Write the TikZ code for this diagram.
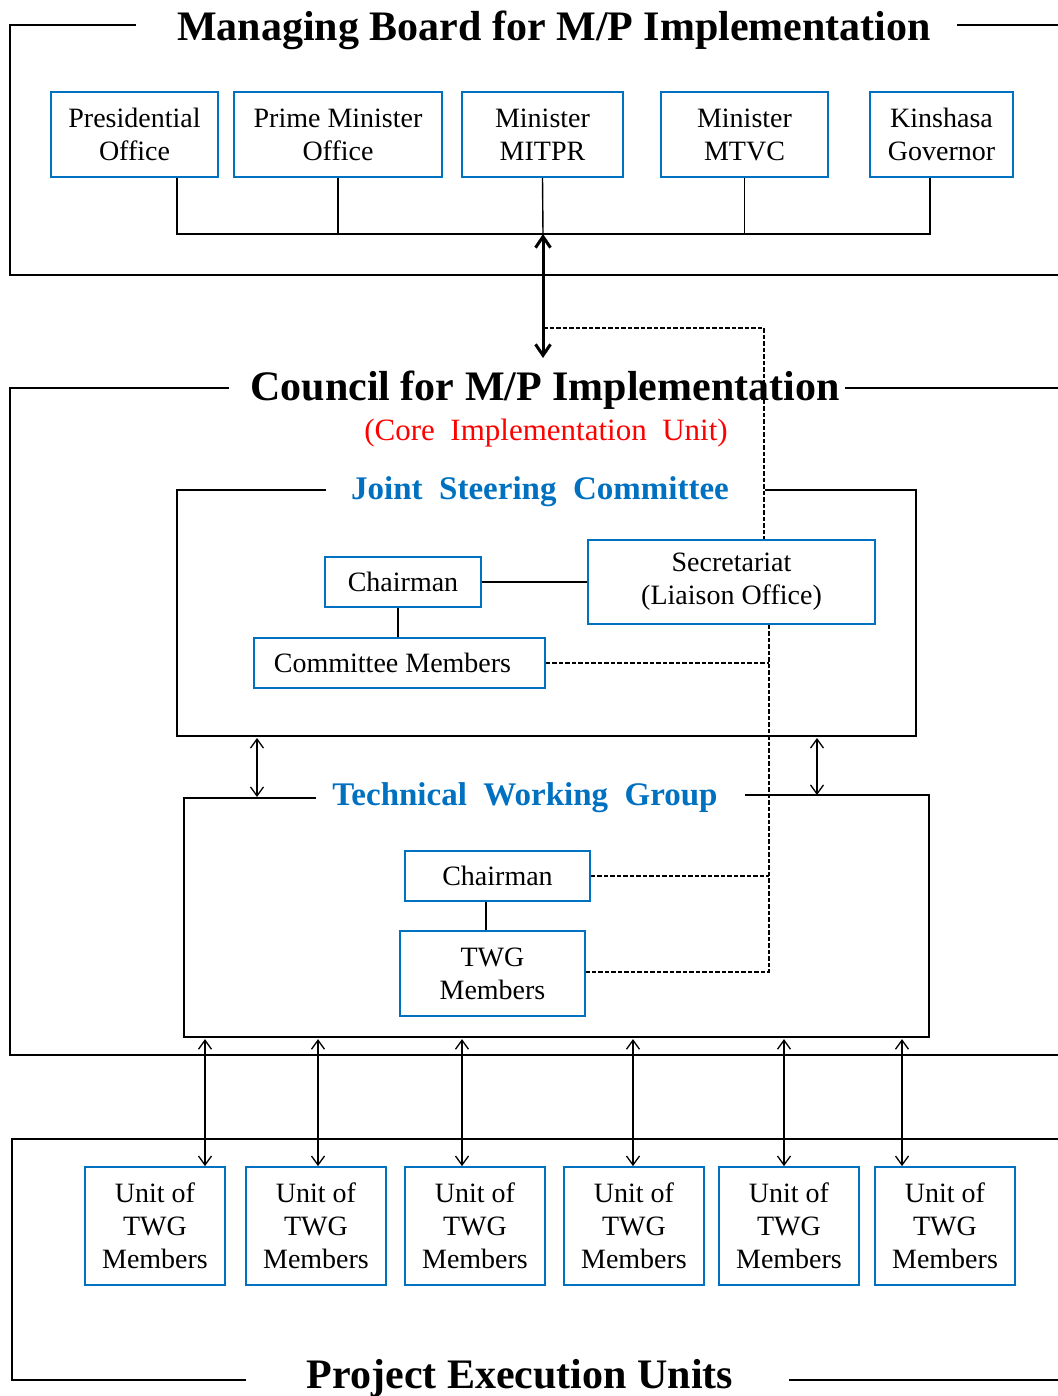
\documentclass[tikz,border=0pt]{standalone}
\usepackage{fontspec}
\setmainfont{Liberation Serif}
\usetikzlibrary{arrows.meta}
\definecolor{boxblue}{RGB}{0,112,192}
\definecolor{corered}{RGB}{255,0,0}
\begin{document}
\begin{tikzpicture}[x=1pt,y=-1pt,
  box/.style={draw=boxblue,line width=1.8pt,align=center,inner sep=0pt,
    font=\fontsize{28}{33}\selectfont},
  frame/.style={line width=1.8pt,line cap=rect},
  conn/.style={line width=1.4pt},
  dashline/.style={line width=1.5pt,dash pattern=on 4.5pt off 2pt},
  arr/.style={line width=1.3pt,{Straight Barb[length=9pt,width=13pt]}-{Straight Barb[length=9pt,width=13pt]}},
  bigarr/.style={line width=3pt,{Straight Barb[length=11pt,width=15pt]}-{Straight Barb[length=11pt,width=15pt]}},
  maintitle/.style={inner sep=0pt,font=\bfseries\fontsize{42}{44}\selectfont},
  subtitle/.style={inner sep=0pt,text=boxblue,font=\bfseries\fontsize{33}{36}\selectfont}]
\useasboundingbox (0,0) rectangle (1057,1396);

% ---------- Managing board ----------
\node[maintitle] (mbt) at (554,30) {Managing Board for M/P Implementation};
\draw[frame] (135,25) -- (10,25) -- (10,275) -- (1057,275);
\draw[frame] (958,25) -- (1057,25);

\node[box,minimum width=167,minimum height=85] (pres) at (134.5,134.5) {Presidential\\Office};
\node[box,minimum width=208,minimum height=85] (pm) at (338,134.5) {Prime Minister\\Office};
\node[box,minimum width=161,minimum height=85] (mitpr) at (542.5,134.5) {Minister\\MITPR};
\node[box,minimum width=167,minimum height=85] (mtvc) at (744.5,134.5) {Minister\\MTVC};
\node[box,minimum width=143,minimum height=85] (kin) at (941.5,134.5) {Kinshasa\\Governor};

\coordinate (bus) at (543,234);
\coordinate (cbt) at (543,358);
\draw[conn] ([xshift=42.5]pres.south) |- (bus) -| ([xshift=-11.5]kin.south);
\draw[conn] (pm.south) -- (pm.south |- bus);
\draw[conn] (mtvc.south) -- (mtvc.south |- bus);
\draw[conn] (mitpr.south) -- (bus);
\draw[bigarr] (bus) -- (cbt);

% ---------- Council ----------
\node[maintitle] (ct) at (545,390) {Council for M/P Implementation};
\draw[frame] (228,388) -- (10,388) -- (10,1055) -- (1057,1055);
\draw[frame] (846,388) -- (1057,388);
\node[inner sep=0pt,text=corered,font=\fontsize{31}{33}\selectfont] (cu) at (546,433)
  {(Core\ \ Implementation\ \ Unit)};

% ---------- Joint Steering Committee ----------
\node[subtitle] (jsc) at (540,492) {Joint\ \ Steering\ \ Committee};
\draw[frame] (325,490) -- (177,490) -- (177,736) -- (916,736) -- (916,490) -- (766,490);

\node[box,minimum width=156,minimum height=50] (jchair) at (403,582) {Chairman};
\node[box,minimum width=287,minimum height=84] (sec) at (731.5,582) {Secretariat\\(Liaison Office)};
\node[box,minimum width=291,minimum height=50] (cm) at (399.5,663) {\hspace*{-14pt}Committee Members};
\draw[conn] (jchair.east) -- (sec.west);
\draw[conn] ([xshift=-5]jchair.south) -- ([xshift=-1.5]cm.north);

% ---------- Technical Working Group ----------
\node[subtitle] (twg) at (525,798) {Technical\ \ Working\ \ Group};
\draw[frame] (315,798) -- (184,798) -- (184,1037) -- (929,1037) -- (929,795) -- (746,795);

\node[box,minimum width=185,minimum height=50] (tchair) at (497.5,876) {Chairman};
\node[box,minimum width=185,minimum height=85] (twgm) at (492.5,973.5) {TWG\\Members};
\draw[conn] ([xshift=-11.5]tchair.south) -- ([xshift=-6.5]twgm.north);

\coordinate (jl1) at (257,738);
\coordinate (jl2) at (257,797);
\coordinate (jr1) at (817,738);
\coordinate (jr2) at (817,795);
\draw[arr] (jl1) -- (jl2);
\draw[arr] (jr1) -- (jr2);

% ---------- dashed liaison lines ----------
\coordinate (dA) at (543,328);
\coordinate (dB) at (769,972);
\draw[dashline] (dA) -| ([xshift=32.5]sec.north);
\draw[dashline] ([xshift=37.5]sec.south) -- (dB) -- (twgm.east |- dB);
\draw[dashline] (cm.east) -- (cm.east -| dB);
\draw[dashline] (tchair.east) -- (tchair.east -| dB);

% ---------- Project Execution Units ----------
\draw[frame] (1057,1139) -- (12,1139) -- (12,1380) -- (245,1380);
\draw[frame] (790,1380) -- (1057,1380);
\node[maintitle] (peu) at (520,1378) {Project Execution Units};

\foreach \i/\cx/\d in {1/155/50,2/316/2,3/475/-13,4/634/-1,5/789/-5,6/945/-43}{
  \node[box,minimum width=140,minimum height=118] (u\i) at (\cx,1226) {Unit of\\TWG\\Members};
  \draw[arr] ([xshift=\d]u\i.north) -- ++(0,-127);
}
\end{tikzpicture}
\end{document}
